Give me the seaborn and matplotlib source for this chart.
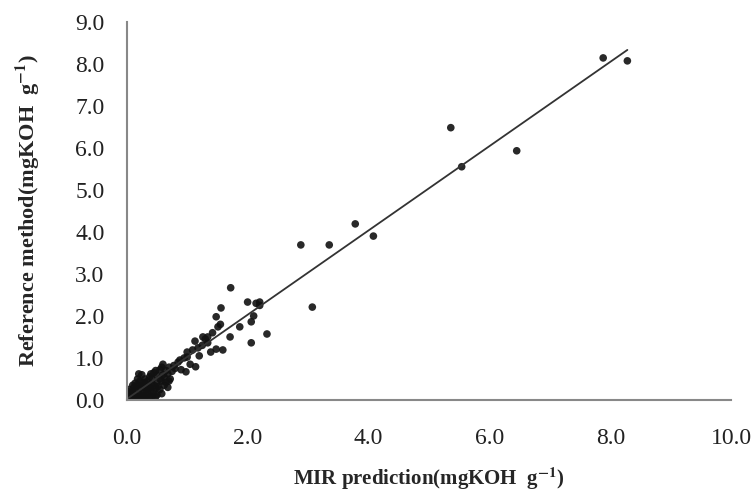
import numpy as np
import pandas as pd
import seaborn as sns
import matplotlib
matplotlib.use('Agg')
import matplotlib.pyplot as plt

sns.set_style('white')
plt.rcParams['font.family'] = ['Liberation Serif', 'DejaVu Serif']
plt.rcParams['mathtext.fontset'] = 'stix'

# MIR prediction (x) vs reference method (y)
mir_pred = [
    0.02, 0.05, 0.08, 0.10, 0.12, 0.03, 0.06, 0.15, 0.18, 0.20,
    0.22, 0.25, 0.28, 0.30, 0.32, 0.35, 0.38, 0.40, 0.42, 0.45,
    0.48, 0.50, 0.52, 0.55, 0.58, 0.60, 0.62, 0.65, 0.68, 0.70,
    0.72, 0.75, 0.78, 0.80, 0.15, 0.18, 0.20, 0.25, 0.28, 0.30,
    0.35, 0.38, 0.40, 0.42, 0.45, 0.48, 0.50, 0.55, 0.58, 0.60,
    0.10, 0.12, 0.08, 0.05, 0.14, 0.22, 0.25, 0.32, 0.35, 0.45,
    0.50, 0.55, 0.62, 0.65, 0.68, 0.70, 0.40, 0.30, 0.18, 0.22,
    0.02, 0.00, 0.04, 0.15, 0.26, 0.33, 0.38, 0.48, 0.58, 0.10,
    0.85, 0.88, 0.90, 0.95, 1.00, 1.00, 0.98, 1.05, 1.09, 1.13,
    1.14, 1.18, 1.20, 1.25, 1.26, 1.30, 1.34, 1.34, 1.39, 1.42,
    1.48, 1.48, 1.51, 1.55, 1.56, 1.59, 1.71, 1.72, 1.87, 2.00,
    2.06, 2.06, 2.10, 2.14, 2.20, 2.20, 2.32,
    2.88, 3.07, 3.35, 3.78, 4.08, 5.36, 5.54, 6.45, 7.88, 8.28,
]
reference = [
    0.01, 0.03, 0.00, 0.05, 0.10, 0.08, 0.12, 0.02, 0.08, 0.15,
    0.05, 0.12, 0.20, 0.08, 0.25, 0.15, 0.30, 0.22, 0.07, 0.35,
    0.28, 0.40, 0.32, 0.50, 0.45, 0.60, 0.55, 0.70, 0.62, 0.78,
    0.50, 0.68, 0.82, 0.75, 0.25, 0.35, 0.62, 0.60, 0.42, 0.50,
    0.45, 0.55, 0.62, 0.50, 0.65, 0.70, 0.58, 0.72, 0.78, 0.85,
    0.20, 0.30, 0.18, 0.15, 0.40, 0.28, 0.35, 0.38, 0.28, 0.18,
    0.12, 0.25, 0.35, 0.42, 0.30, 0.45, 0.38, 0.32, 0.50, 0.45,
    0.20, 0.10, 0.25, 0.12, 0.02, 0.10, 0.05, 0.08, 0.15, 0.35,
    0.90, 0.95, 0.72, 1.00, 1.02, 1.14, 0.67, 0.85, 1.19, 1.40,
    0.79, 1.24, 1.05, 1.30, 1.50, 1.45, 1.36, 1.50, 1.14, 1.60,
    1.21, 1.98, 1.74, 1.80, 2.19, 1.19, 1.50, 2.67, 1.74, 2.33,
    1.86, 1.36, 2.00, 2.30, 2.33, 2.25, 1.57,
    3.69, 2.21, 3.69, 4.19, 3.90, 6.48, 5.55, 5.93, 8.14, 8.07,
]

# trend line ends
line_x = [0.0, 8.28]
line_y = [0.02, 8.33]

df = pd.DataFrame({'mir': mir_pred, 'ref': reference})
df_line = pd.DataFrame({'x': line_x, 'y': line_y})

fig = plt.figure(figsize=(7.54, 4.95), dpi=100)
ax = fig.add_axes([0.168, 0.192, 0.802, 0.764])

sns.lineplot(data=df_line, x='x', y='y', color='#333333', linewidth=1.3, ax=ax)
sns.scatterplot(data=df, x='mir', y='ref', color='#111111', s=30,
                edgecolor='none', alpha=0.9, ax=ax)

ax.set_xlim(0, 10)
ax.set_ylim(0, 9)
ax.set_xticks(np.arange(0, 10.1, 2))
ax.set_yticks(np.arange(0, 9.1, 1))
ax.set_xticklabels(['%.1f' % v for v in np.arange(0, 10.1, 2)])
ax.set_yticklabels(['%.1f' % v for v in np.arange(0, 9.1, 1)])

for side in ['top', 'right']:
    ax.spines[side].set_visible(False)
for side in ['left', 'bottom']:
    ax.spines[side].set_color('#888888')
    ax.spines[side].set_linewidth(1.5)

ax.tick_params(axis='both', direction='out', length=5, width=1.2,
               color='#888888', labelsize=17, labelcolor='#222222')
ax.tick_params(axis='y', pad=11)
ax.tick_params(axis='x', pad=15)

ax.set_xlabel(r'MIR prediction(mgKOH  g$^{\mathbf{-1}}$)', fontsize=15,
              fontweight='bold', labelpad=12)
ax.set_ylabel(r'Reference method(mgKOH  g$^{\mathbf{-1}}$)', fontsize=16,
              fontweight='bold', labelpad=24)

plt.savefig('out.png', dpi=100)
